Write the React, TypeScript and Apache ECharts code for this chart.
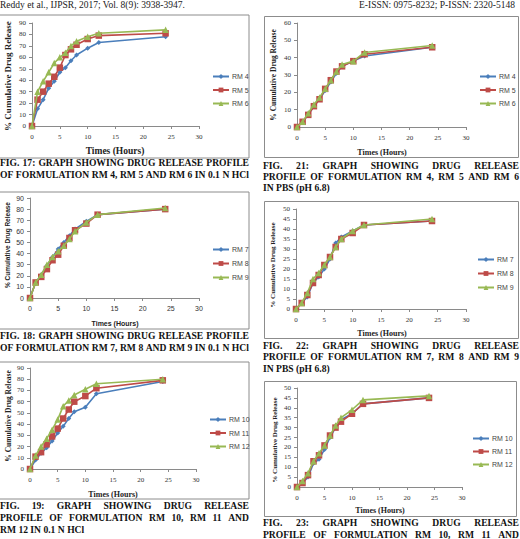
import React, { useEffect, useRef } from "react";
import * as echarts from "echarts";

// ---- data ----
const hours = [0, 1, 2, 3, 4, 5, 6, 7, 8, 10, 12, 24];
const xTicks = [0, 5, 10, 15, 20, 25, 30];

// 0.1 N HCl
const rm4Hcl = [0, 15, 23, 33, 39, 47, 51, 57, 62, 68, 73, 78];
const rm5Hcl = [0, 23, 30, 37, 43, 51, 62, 67, 71, 76, 79, 81];
const rm6Hcl = [0, 30, 39, 47, 55, 60, 64, 70, 74, 78, 81, 84];
const rm7Hcl = [0, 14, 21, 29, 37, 44, 50, 56, 62, 69, 75, 80];
const rm8Hcl = [0, 14, 19, 26, 34, 39, 47, 54, 61, 67, 75, 80];
const rm9Hcl = [0, 14, 21, 30, 37, 42, 47, 53, 60, 68, 75, 81];
const rm10Hcl = [0, 8, 14, 19, 25, 32, 38, 45, 51, 55, 67, 78];
const rm11Hcl = [0, 11, 15, 22, 29, 36, 45, 53, 60, 65, 72, 79];
const rm12Hcl = [0, 12, 20, 27, 35, 44, 56, 61, 66, 71, 76, 80];

// PBS pH 6.8
const rm4Pbs = [0, 3, 7, 12, 16, 21, 26, 31, 35, 38, 41, 46];
const rm5Pbs = [0, 3, 7, 12, 16, 22, 27, 32, 35, 38, 42, 46];
const rm6Pbs = [0, 3, 8, 13, 17, 22, 27, 32, 36, 38, 43, 47];
const rm7Pbs = [0, 3, 6, 13, 16, 20, 25, 33, 36, 39, 42, 44];
const rm8Pbs = [0, 3, 7, 13, 17, 22, 26, 31, 35, 38, 42, 44];
const rm9Pbs = [0, 3, 8, 15, 18, 22, 26, 31, 35, 39, 42, 45];
const rm10Pbs = [0, 2, 5, 12, 14, 19, 25, 30, 34, 37, 42, 45];
const rm11Pbs = [0, 2, 6, 13, 16, 21, 26, 30, 33, 37, 42, 45];
const rm12Pbs = [0, 3, 7, 13, 17, 21, 26, 31, 35, 39, 44, 46];

const yTitle = "% Cumulative Drug Release";
const xTitle = "Times (Hours)";

const headerLeft = "Reddy et al., IJPSR, 2017; Vol. 8(9): 3938-3947.";
const headerRight = "E-ISSN: 0975-8232; P-ISSN: 2320-5148";

const SERIF = "'Liberation Serif', 'Times New Roman', serif";
const SANS = "'Liberation Sans', Arial, sans-serif";

const COLORS = ["#4A7EBB", "#BE4B48", "#98B954"];
const SYMBOLS = ["diamond", "rect", "triangle"];
const SIZES = [5, 6.5, 6.5];

const panels = [
  {
    names: ["RM 4", "RM 5", "RM 6"], data: [rm4Hcl, rm5Hcl, rm6Hcl], yMax: 90, yInt: 10,
    grid: { left: 32, top: 23, width: 167, height: 103 }, legend: { left: 212, top: 73, gap: 12.5 },
    box: [-2, 15, 251, 143], font: SERIF, yT: [8, 76, 9], xT: [115, 151, 9.5],
  },
  {
    names: ["RM 7", "RM 8", "RM 9"], data: [rm7Hcl, rm8Hcl, rm9Hcl], yMax: 90, yInt: 10,
    grid: { left: 30, top: 198, width: 169, height: 100 }, legend: { left: 212, top: 246, gap: 13 },
    box: [-2, 192, 251, 137], font: SANS, yT: [7, 245, 6.5], xT: [115, 323, 7],
  },
  {
    names: ["RM 10", "RM 11", "RM 12"], data: [rm10Hcl, rm11Hcl, rm12Hcl], yMax: 90, yInt: 10,
    grid: { left: 30, top: 368, width: 166, height: 101 }, legend: { left: 209, top: 416, gap: 12.5 },
    box: [-2, 362, 251, 137], font: SERIF, yT: [8, 416, 7.5], xT: [113, 494, 8],
  },
  {
    names: ["RM 4", "RM 5", "RM 6"], data: [rm4Pbs, rm5Pbs, rm6Pbs], yMax: 60, yInt: 10,
    grid: { left: 297, top: 23, width: 169, height: 104 }, legend: { left: 479, top: 73, gap: 12.5 },
    box: [264.5, 16.5, 254, 141], font: SERIF, yT: [273, 75, 7.5], xT: [382, 152, 8],
  },
  {
    names: ["RM 7", "RM 8", "RM 9"], data: [rm7Pbs, rm8Pbs, rm9Pbs], yMax: 50, yInt: 5,
    grid: { left: 296, top: 209, width: 170, height: 100 }, legend: { left: 477, top: 256, gap: 13 },
    box: [264.5, 201.5, 254, 137], font: SERIF, yT: [273, 265, 7], xT: [382, 333, 8],
  },
  {
    names: ["RM 10", "RM 11", "RM 12"], data: [rm10Pbs, rm11Pbs, rm12Pbs], yMax: 50, yInt: 5,
    grid: { left: 297, top: 388, width: 165, height: 99 }, legend: { left: 472, top: 435, gap: 12 },
    box: [264.5, 381.5, 252, 135], font: SERIF, yT: [275, 440, 7], xT: [380, 510, 8],
  },
];

type Line = [string, boolean];
const captions: { x: number; w: number; y: number; lh: number; lines: Line[] }[] = [
  { x: 0, w: 249, y: 157, lh: 12, lines: [["FIG. 17: GRAPH SHOWING DRUG RELEASE PROFILE", true], ["OF FORMULATION RM 4, RM 5 AND RM 6 IN 0.1 N HCl", true]] },
  { x: 0, w: 249, y: 330, lh: 11.5, lines: [["FIG. 18: GRAPH SHOWING DRUG RELEASE PROFILE", true], ["OF FORMULATION RM 7, RM 8 AND RM 9 IN 0.1 N HCl", true]] },
  { x: 0, w: 249, y: 500, lh: 12, lines: [["FIG. 19: GRAPH SHOWING DRUG RELEASE", true], ["PROFILE OF FORMULATION RM 10, RM 11 AND", true], ["RM 12 IN 0.1 N HCl", false]] },
  { x: 263, w: 256, y: 159.5, lh: 11.2, lines: [["FIG. 21: GRAPH SHOWING DRUG RELEASE", true], ["PROFILE OF FORMULATION RM 4, RM 5 AND RM 6", true], ["IN PBS (pH 6.8)", false]] },
  { x: 263, w: 256, y: 339.5, lh: 11.5, lines: [["FIG. 22: GRAPH SHOWING DRUG RELEASE", true], ["PROFILE OF FORMULATION RM 7, RM 8 AND RM 9", true], ["IN PBS (pH 6.8)", false]] },
  { x: 263, w: 256, y: 517, lh: 11.5, lines: [["FIG. 23: GRAPH SHOWING DRUG RELEASE", true], ["PROFILE OF FORMULATION RM 10, RM 11 AND", true]] },
];

export default function App() {
  const ref = useRef<HTMLDivElement>(null);

  useEffect(() => {
    if (!ref.current) return;
    const chart = echarts.init(ref.current, undefined, { renderer: "svg" });

    const grids: any[] = [];
    const xAxes: any[] = [];
    const yAxes: any[] = [];
    const series: any[] = [];
    const legends: any[] = [];
    const graphics: any[] = [];

    panels.forEach((p, i) => {
      grids.push({ ...p.grid, containLabel: false });
      const axisCommon = {
        gridIndex: i,
        type: "value",
        axisLine: { show: true, onZero: false, lineStyle: { color: "#8a8a8a", width: 1 } },
        axisTick: { show: true, length: 3, inside: false, lineStyle: { color: "#8a8a8a" } },
        splitLine: { show: false },
      };
      xAxes.push({
        ...axisCommon,
        min: xTicks[0],
        max: xTicks[xTicks.length - 1],
        interval: xTicks[1] - xTicks[0],
        axisLabel: { fontSize: 7, color: "#333", fontFamily: p.font, margin: 7 },
      });
      yAxes.push({
        ...axisCommon,
        min: 0,
        max: p.yMax,
        interval: p.yInt,
        axisLabel: { fontSize: 7, color: "#333", fontFamily: p.font, margin: 6 },
      });
      p.names.forEach((n, k) => {
        series.push({
          type: "line",
          name: n,
          xAxisIndex: i,
          yAxisIndex: i,
          data: hours.map((h, j) => [h, p.data[k][j]]),
          symbol: SYMBOLS[k],
          symbolSize: SIZES[k],
          showSymbol: true,
          lineStyle: { color: COLORS[k], width: 1.6 },
          itemStyle: { color: COLORS[k] },
          z: 3 + k,
        });
      });
      const ih = 6;
      legends.push({
        data: p.names,
        orient: "vertical",
        left: p.legend.left,
        top: p.legend.top,
        itemWidth: 16,
        itemHeight: ih,
        itemGap: p.legend.gap - ih,
        padding: 0,
        selectedMode: false,
        textStyle: { fontSize: 7, color: "#444", fontFamily: SANS, padding: [0, 0, 0, -2] },
      });
      graphics.push({
        type: "rect",
        shape: { x: p.box[0], y: p.box[1], width: p.box[2], height: p.box[3] },
        style: { fill: "none", stroke: "#8c8c8c", lineWidth: 1 },
        silent: true,
      });
      graphics.push({
        type: "text",
        x: p.yT[0],
        y: p.yT[1],
        rotation: Math.PI / 2,
        style: {
          text: yTitle,
          fontSize: p.yT[2],
          fontWeight: "bold",
          fontFamily: p.font,
          fill: "#222",
          textAlign: "center",
          textVerticalAlign: "middle",
        },
      });
      graphics.push({
        type: "text",
        x: p.xT[0],
        y: p.xT[1],
        style: {
          text: xTitle,
          fontSize: p.xT[2],
          fontWeight: "bold",
          fontFamily: p.font,
          fill: "#222",
          textAlign: "center",
          textVerticalAlign: "middle",
        },
      });
    });

    chart.setOption({
      animation: false,
      backgroundColor: "#ffffff",
      grid: grids,
      xAxis: xAxes,
      yAxis: yAxes,
      series,
      legend: legends,
      graphic: graphics,
    });

    return () => chart.dispose();
  }, []);

  const capStyle: React.CSSProperties = {
    fontFamily: SERIF,
    fontWeight: "bold",
    fontSize: "9.6px",
    color: "#111",
    position: "absolute",
    whiteSpace: "nowrap",
  };

  return (
    <div style={{ position: "fixed", left: 0, top: 0, width: 520, height: 539, overflow: "hidden", background: "#fff" }}>
      <div ref={ref} style={{ position: "absolute", left: 0, top: 0, width: 520, height: 539 }} />
      <div style={{ position: "absolute", left: 0, top: 0, fontFamily: SERIF, fontSize: "9.5px", lineHeight: "10px", color: "#222", whiteSpace: "nowrap" }}>
        {headerLeft}
      </div>
      <div style={{ position: "absolute", right: 5, top: 0, fontFamily: SERIF, fontSize: "9.5px", lineHeight: "10px", color: "#222", whiteSpace: "nowrap" }}>
        {headerRight}
      </div>
      {captions.map((c, ci) =>
        c.lines.map(([t, just], li) => (
          <div
            key={ci + "-" + li}
            style={{
              ...capStyle,
              left: c.x,
              width: c.w,
              top: c.y + li * c.lh,
              height: c.lh,
              lineHeight: c.lh + "px",
              display: "flex",
              justifyContent: just ? "space-between" : "flex-start",
              gap: just ? 0 : "0.25em",
            }}
          >
            {t.split(" ").map((w, wi) => (
              <span key={wi}>{w}</span>
            ))}
          </div>
        ))
      )}
    </div>
  );
}
